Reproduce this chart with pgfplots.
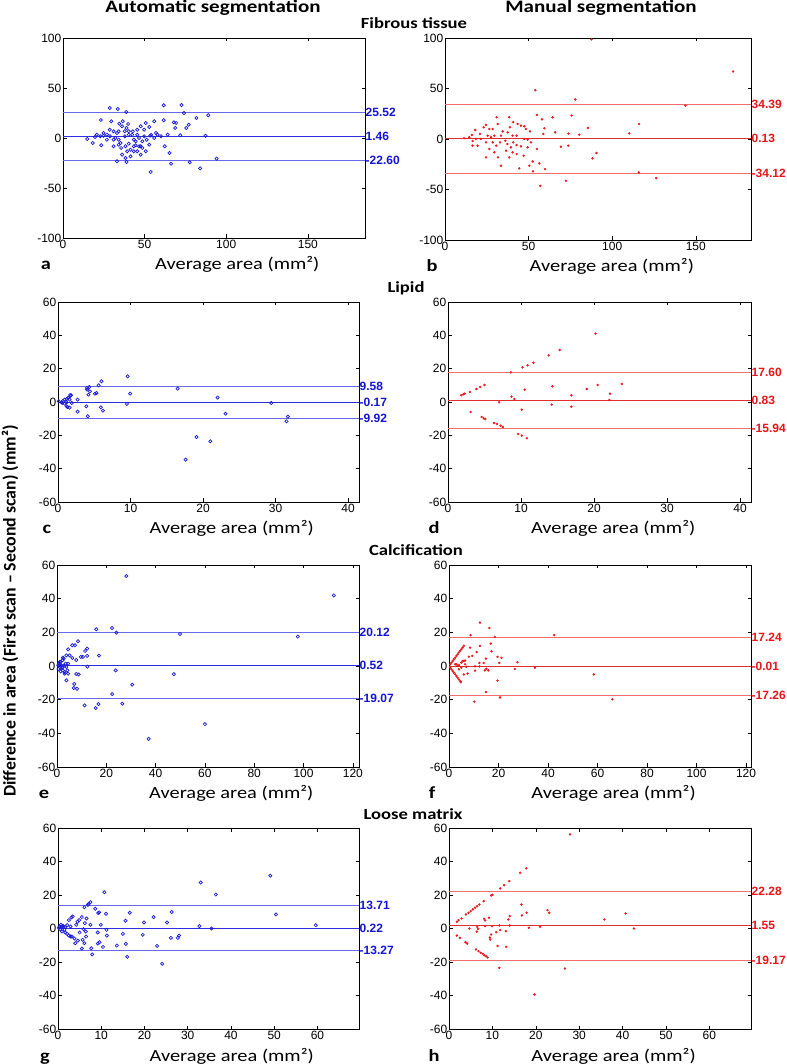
\documentclass[border=0pt]{standalone}
\usepackage{fontspec}
\setmainfont{Liberation Sans}
\newfontfamily\calfont{Carlito}
\usepackage{pgfplots}
\pgfplotsset{compat=1.18}
\definecolor{ptblue}{RGB}{25,25,215}
\definecolor{lnblue}{RGB}{105,105,235}
\definecolor{mnblue}{RGB}{45,45,225}
\definecolor{lblblue}{RGB}{20,20,215}
\definecolor{ptred}{RGB}{235,25,30}
\definecolor{lnred}{RGB}{242,110,110}
\definecolor{mnred}{RGB}{228,45,45}
\definecolor{lblred}{RGB}{235,20,25}
\newcommand{\wide}[1]{\scalebox{1.2}[1]{#1}}
\pgfplotsset{
 bland/.style={scale only axis, clip=false, anchor=south west, xmin=0,
   tick align=inside, tick pos=both, major tick length=3.5pt,
   axis line style={line width=0.6pt},
   every tick/.style={black, line width=0.5pt},
   ticklabel style={font=\fontsize{12}{14}\selectfont, inner sep=1.5pt},
   xlabel={\calfont\fontsize{17}{19}\selectfont\wide{Average area (mm²)}}},
 leftcol/.style={every axis x label/.style={at={(axis description cs:0.577,0)}, anchor=base, yshift=-32pt}},
 rightcol/.style={every axis x label/.style={at={(axis description cs:0.545,0)}, anchor=base, yshift=-32pt}},
 y100/.style={ymin=-100, ymax=100, ytick={-100,-50,0,50,100}, yticklabels={-100,-50,0,50,100}},
 y60/.style={ymin=-60, ymax=60, ytick={-60,-40,-20,0,20,40,60}, yticklabels={-60,-40,-20,0,20,40,60}},
 blueset/.style={only marks, mark=o, mark size=1.6pt, mark options={line width=0.7pt}, color=ptblue},
 redset/.style={only marks, mark=*, mark size=1pt, color=ptred},
}
\newcommand{\balines}[7]{%
 \addplot[#5, line width=0.9pt] coordinates {(0,#2) (#1,#2)};
 \addplot[#6, line width=0.9pt] coordinates {(0,#3) (#1,#3)};
 \addplot[#5, line width=0.9pt] coordinates {(0,#4) (#1,#4)};
 \node[anchor=west, inner sep=0pt, xshift=0.5pt, text=#7, font=\bfseries\fontsize{12}{14}\selectfont] at (axis cs:#1,#2) {#2};
 \node[anchor=west, inner sep=0pt, xshift=0.5pt, text=#7, font=\bfseries\fontsize{12}{14}\selectfont] at (axis cs:#1,#3) {#3};
 \node[anchor=west, inner sep=0pt, xshift=0.5pt, text=#7, font=\bfseries\fontsize{12}{14}\selectfont] at (axis cs:#1,#4) {#4};
}
\newcommand{\plet}[2]{\node[anchor=base, inner sep=0pt, font=\calfont\bfseries\fontsize{17}{19}\selectfont] at ([xshift=#1pt, yshift=-32pt]axis description cs:0,0) {\wide{#2}};}
\begin{document}
\begin{tikzpicture}
\useasboundingbox (0pt,0pt) rectangle (786pt,1064pt);
% titles
\node[anchor=base, inner sep=0pt, font=\calfont\bfseries\fontsize{17.5}{20}\selectfont] at (213pt,1051pt) {\wide{Automatic segmentation}};
\node[anchor=base, inner sep=0pt, font=\calfont\bfseries\fontsize{17.5}{20}\selectfont] at (601pt,1051pt) {\wide{Manual segmentation}};
\node[anchor=base, inner sep=0pt, font=\calfont\bfseries\fontsize{15.5}{18}\selectfont] at (414pt,1035pt) {\wide{Fibrous tissue}};
\node[anchor=base, inner sep=0pt, font=\calfont\bfseries\fontsize{15.5}{18}\selectfont] at (406pt,771pt) {\wide{Lipid}};
\node[anchor=base, inner sep=0pt, font=\calfont\bfseries\fontsize{15.5}{18}\selectfont] at (416pt,508pt) {\wide{Calcification}};
\node[anchor=base, inner sep=0pt, font=\calfont\bfseries\fontsize{15.5}{18}\selectfont] at (413pt,244pt) {\wide{Loose matrix}};
\node[rotate=90, inner sep=0pt, font=\calfont\bfseries\fontsize{17.8}{20}\selectfont] at (10pt,453pt) {Difference in area (First scan – Second scan) (mm²)};

% ---------- a
\begin{axis}[bland, leftcol, y100, at={(63pt,826pt)}, width=302pt, height=200pt, xmax=185,
  xtick={0,50,100,150}, xticklabels={0,50,100,150}]
\balines{185}{25.52}{1.46}{-22.60}{lnblue}{mnblue}{lblblue}
\addplot[blueset] coordinates {(28.6,30)(33.5,29)(38.7,26)(23.2,18)(29.6,16.7)(36.6,16.7)(34.5,14.3)(39.9,14)(36.2,11.7)(38.9,10)(24.8,5)(20.7,3.3)(14.9,-1)(18.2,-5)(23.4,-7.3)(26.9,3.3)(31,6.7)(32.1,0)(34.1,-1.7)(35.2,-5)(35.6,-10)(37.9,1.7)(40.3,-5.7)(42.4,3.3)(43.4,-1.7)(44.5,-7.3)(45.5,-13.3)(47.6,-8.3)(48.6,-3.3)(49.7,8.3)(50.7,15)(52.8,11)(54,3)(55.9,16.7)(57,5)(60,1.7)(61.7,32.7)(61.7,17.7)(62.3,-8.3)(64.1,3.3)(65.2,-15)(66.2,-25.7)(67.9,15.7)(68.7,10)(69.3,15)(71.8,2.7)(72.6,33)(74.1,25)(75.5,10)(77,13.3)(77.6,-24.3)(81.7,20)(84,-30.3)(87.3,2.3)(89,22.7)(94.1,-20.7)(53.7,-34)(33.1,-23.3)(38.9,-24)(36.2,-16.7)(38.3,-20)(41.4,-18.3)(43.4,-13.3)(47.6,-16.7)(50.7,-13.3)(57.9,3.3)(28.8,1.7)(31,-1.7)(33.1,5)(34.1,6.7)(37.8,6.7)(40.3,3.3)(45.5,3.3)(46.6,0)(49.7,1.7)(51.3,-1.7)(52.8,-6.7)(43.4,-8.3)(38.3,-8.3)(34.1,-6.7)(31,-8.3)(26.9,-1.7)(22.8,1.7)(19.6,1)(24.8,2.3)(28.6,8.3)(40.3,6.7)(42.8,6.7)(45.5,8.3)(47.6,11.7)(44.5,-3.3)(46.6,-8.3)(48.6,-10)(41.4,-11.7)(39.3,-13.3)(55.9,0)(53.4,2.3)};
\plet{-17}{a}
\end{axis}

% ---------- b
\begin{axis}[bland, rightcol, y100, at={(445pt,824pt)}, width=306pt, height=202pt, xmax=183,
  xtick={0,50,100,150}, xticklabels={0,50,100,150}]
\balines{183}{34.39}{0.13}{-34.12}{lnred}{mnred}{lblred}
\addplot[redset] coordinates {(87.6,98.7)(172.3,66.9)(54,48.3)(77.9,39.1)(143.8,33.1)(75.7,23.2)(55,23.8)(64.3,21.5)(116.1,14.9)(110.2,5.6)(85.5,10.9)(80.3,4.3)(73.9,5.3)(65.9,6.6)(58,19.5)(59.4,10.6)(58.8,5)(69.3,-7.6)(73.7,-6.6)(90.6,-13.9)(88.2,-19.2)(115.9,-33.1)(126.3,-38.7)(72.3,-41.4)(57,-46.4)(59.8,-29.8)(56.4,-24.2)(52.4,-22.2)(50.4,-26.5)(52.6,-32.1)(44.4,-29.1)(33.5,-26.5)(24.5,-18.2)(31.7,-18.2)(38.4,-18.2)(42.8,-14.9)(47,-16.6)(49.4,-8.3)(54.9,-9.9)(11.4,0.7)(16.1,4)(16.5,-6.6)(18.1,8.9)(20.9,5)(23.1,11.6)(24.5,13.9)(26.5,9.9)(28.5,9.9)(30.9,21.5)(31.5,14.9)(34.5,7.6)(38.4,21.5)(38.8,11.6)(40.8,16.6)(43.4,14.9)(45.4,13.2)(47.4,12.6)(48.4,9.9)(50.8,7.6)(27.5,1.7)(28.5,-3.3)(30.6,-6.6)(32.9,-3.3)(36.1,-1.7)(37.3,-5)(39.4,-8.3)(40.8,-3.3)(42.8,-6)(45.4,-7.3)(47.4,0)(21.5,0)(24.5,-3.3)(19.5,-6.6)(18.5,0)(40.4,3.3)(37.5,6.6)(33.5,3.3)(29.5,3.3)(25.5,3.3)(42.8,3.3)(26.5,-9.9)(29.5,-13.2)(36.5,-11.6)(40.4,-13.2)(51.4,-3.3)(49.4,-0.7)(16.5,-2)(14.5,1.7)};
\plet{-13}{b}
\end{axis}

% ---------- c
\begin{axis}[bland, leftcol, y60, at={(58pt,562pt)}, width=301pt, height=200pt, xmax=41.5,
  xtick={0,10,20,30,40}, xticklabels={0,10,20,30,40}]
\balines{41.5}{9.58}{-0.17}{-9.92}{lnblue}{mnblue}{lblblue}
\addplot[blueset] coordinates {(0.1,0.4)(0.5,-0.2)(0.7,0.6)(0.9,1.4)(1.2,1.8)(1.4,2.4)(1.6,1.4)(1.2,-0.2)(0.6,-0.6)(0.9,-1)(1.9,-0.6)(1.5,2.8)(1.8,4)(1.2,-2.6)(1.3,-3)(1.6,-3.4)(2.7,1.4)(1.7,4.2)(2.7,-5.8)(3.9,-2.6)(4,8.4)(4.2,4.4)(4.0,7.4)(4.4,6.4)(4.1,-8.6)(5.1,5)(5.3,5.4)(5.6,10)(6,12.4)(5.9,-3.2)(6.2,-5.2)(9.5,-1.2)(9.6,15.4)(9.95,5)(16.5,8)(17.6,-34.6)(19.1,-21)(21,-23.6)(22,2.6)(23.1,-7)(29.4,-0.6)(31.5,-11.6)(31.7,-8.8)(4.3,9)};
\plet{-11}{c}
\end{axis}

% ---------- d
\begin{axis}[bland, rightcol, y60, at={(448pt,562pt)}, width=303pt, height=200pt, xmax=41.5,
  xtick={0,10,20,30,40}, xticklabels={0,10,20,30,40}]
\balines{41.5}{17.60}{0.83}{-15.94}{lnred}{mnred}{lblred}
\addplot[redset] coordinates {(1.8,4)(2.1,4.6)(2.3,5)(3,6)(3.9,7.8)(4.4,9)(5,10.2)(3.1,-6)(4.6,-9)(4.9,-9.8)(5.1,-10.2)(6.3,-12.6)(6.7,-13.2)(7.2,-14.2)(7.5,-15)(7,-0.2)(8.6,17.8)(8.7,3.2)(9.1,1.8)(9.6,-19.2)(10.1,-20.2)(10.8,-21.8)(10.1,-4.6)(10.2,20.8)(10.5,7.4)(10.9,22)(11.7,23.6)(13.8,28)(14.2,-1.6)(14.3,9.4)(15.3,31.2)(16.9,4)(16.9,-2.8)(19,7.8)(20.2,41)(20.5,10.2)(22.1,1.2)(22.2,5)(23.8,10.8)};
\plet{-14}{d}
\end{axis}

% ---------- e
\begin{axis}[bland, leftcol, y60, at={(57pt,297pt)}, width=302pt, height=202pt, xmax=122.5,
  xtick={0,20,40,60,80,100,120}, xticklabels={0,20,40,60,80,100,120}]
\balines{122.5}{20.12}{0.52}{-19.07}{lnblue}{mnblue}{lblblue}
\addplot[blueset] coordinates {(28.1,53.4)(112.3,41.9)(15.9,21.8)(22.3,22.6)(24.1,19.8)(49.9,19)(97.7,17.5)(8.5,14.7)(6.2,12.3)(7.3,12.3)(12.2,10.3)(11.4,8.9)(4.5,9.9)(17,6.2)(9.7,5.4)(10.5,5.4)(12.2,6)(5.1,6.3)(6.2,4.8)(7.8,3.6)(12.3,-0.4)(23.8,-2.6)(47.4,-4.8)(7.8,-4.8)(8.8,-5)(3.8,-8.5)(7,-10.7)(6.8,-13.1)(8.1,-13.5)(30.5,-11.1)(22.4,-16.7)(11.2,-23.4)(16.8,-22.6)(15.7,-25)(26.5,-22.4)(37.2,-43.3)(60,-34.5)(0.8,1.4)(1.1,-0.6)(1.4,2.4)(1.8,-1.6)(2.2,3.4)(2.4,-2.6)(2.7,4.4)(3.1,-3.6)(3.5,1.4)(3.8,-0.6)(1.8,0.4)(2.4,5)(3.1,-4.6)(4.5,1.4)(4.2,-2.6)(0.5,0.4)(1.1,2.4)(2.2,-1)(4.5,-4.6)(3.8,6.3)(0.6,-1.8)(1.5,-3.2)(2.9,0.2)(1.3,1)};
\plet{-13}{e}
\end{axis}

% ---------- f
\begin{axis}[bland, rightcol, y60, at={(449pt,297pt)}, width=302pt, height=202pt, xmax=122,
  xtick={0,20,40,60,80,100,120}, xticklabels={0,20,40,60,80,100,120}]
\balines{122}{17.24}{-0.01}{-17.26}{lnred}{mnred}{lblred}
\addplot[redset] coordinates {(12.5,25.8)(16.3,22.6)(8.7,18.3)(18.5,17.3)(42.5,18.3)(16.9,13.3)(12.5,11.9)(8.5,10.9)(11.2,8.3)(17.2,8.7)(9.4,6)(19.6,5.4)(21.2,4.8)(14.9,4.4)(12.3,1.8)(14,1.8)(20.3,1.8)(27.6,2.2)(26.6,-1.8)(34.7,-1)(10.5,-0.2)(12.3,-0.2)(15.1,-1.6)(14.5,-2.6)(15.9,-2.6)(10.5,-2.8)(58.5,-5)(19.6,-8.7)(14.9,-15.5)(20.6,-18.7)(66,-19.8)(10.2,-21.2)(0.5,1)(1,2)(1.5,3)(2,4)(2.5,5)(3,6)(3.5,7)(4,8)(4.5,9)(5,10)(5.5,11)(6,12)(0.5,-1)(1,-2)(1.5,-3)(2,-4)(2.5,-5)(3,-6)(3.5,-7)(4,-8)(4.5,-9)(4.8,-9.6)(3,1)(4,0.5)(5,2)(6,3)(6.5,1)(7,-0.5)(5,-1)(4,-2)(6,-5)(7.5,-4.5)(8,5.5)(3.5,0)(2.5,1)(6.5,3.2)(5.5,3)};
\plet{-17}{f}
\end{axis}

% ---------- g
\begin{axis}[bland, leftcol, y60, at={(58pt,35pt)}, width=301pt, height=201pt, xmax=69.6,
  xtick={0,10,20,30,40,50,60}, xticklabels={0,10,20,30,40,50,60}]
\balines{69.6}{13.71}{0.22}{-13.27}{lnblue}{mnblue}{lblblue}
\addplot[blueset] coordinates {(49.1,31.5)(33,27.5)(36.5,20.3)(10.7,21.7)(7.5,15.7)(7.1,14.7)(6.9,14.1)(6.1,12.7)(8.6,11.8)(9.3,9.2)(9.5,9.6)(11.1,8.8)(16.6,9.4)(26.3,9.8)(50.4,8.4)(3.4,7.2)(3.1,6.6)(5.5,6.8)(6.6,6)(4.9,5)(4.5,4)(2.5,5)(15.6,4.6)(22.1,6.8)(19.9,3.6)(25.2,3.6)(7.5,2.2)(6.2,3.2)(9.9,2.2)(32.7,1.4)(35.5,0)(59.6,2)(4.2,2.2)(2.9,1.2)(5.9,-0.4)(11.2,-0.8)(6.4,-1.8)(9.2,-2.4)(5,-2.4)(15,-3.2)(19.6,-3.8)(28,-4.2)(27.7,-5.6)(26.1,-5.6)(11.3,-4.2)(6.5,-4.8)(3.2,-4.8)(3.8,-6)(4.6,-7.2)(4,-8.8)(5.7,-6.8)(6.1,-8.8)(9.2,-9)(9.6,-8.2)(10.4,-11)(13.6,-10.2)(15.7,-9.2)(22.9,-10.4)(5.5,-12)(7.7,-11.8)(7.9,-15.5)(16,-16.9)(24.1,-21.1)(0.4,1.2)(0.5,-0.4)(0.7,2.2)(0.9,-1.8)(1.3,0.8)(1.5,-0.8)(0.9,1.2)(1.7,-2.4)(2.1,-3.2)(2.5,-4.2)(2.9,-4.8)(1.2,1.6)(2.1,2)(0.2,0.4)(1.7,0.8)};
\plet{-13}{g}
\end{axis}

% ---------- h
\begin{axis}[bland, rightcol, y60, at={(449pt,35pt)}, width=302pt, height=201pt, xmax=69.6,
  xtick={0,10,20,30,40,50,60}, xticklabels={0,10,20,30,40,50,60}]
\balines{69.6}{22.28}{1.55}{-19.17}{lnred}{mnred}{lblred}
\addplot[redset] coordinates {(27.9,56.2)(17.8,35.9)(16.4,33.3)(13.9,28.3)(12.7,25.9)(11.8,23.9)(10,20.1)(9.7,19.7)(8,16.3)(7,14.3)(6.5,13.3)(6,12.4)(5.5,11.4)(5,10.4)(4.5,9.4)(3.9,8.4)(2.9,6)(2.2,5)(1.8,4)(16.7,14.3)(16.8,7.8)(17.9,9.4)(22.7,11)(23.1,9.4)(35.8,5.4)(40.7,9)(42.6,0)(14,7.4)(13.7,5.4)(8.1,5.8)(8.3,4.8)(9.2,6.4)(8.3,1.4)(9.9,1.4)(11.6,1.8)(14,1.8)(18.4,0.4)(21,1)(4.7,0)(6.5,1)(6.7,-0.2)(6.4,-1.8)(11.8,-1)(10.9,-2.2)(13.1,-1.6)(9.7,-3.6)(9.4,-5.4)(9.5,-6.6)(11.2,-10.4)(13.2,-11)(1.8,-4.2)(2.5,-5.6)(3.8,-8.2)(4.2,-9)(6.2,-12.5)(6.8,-13.5)(7.3,-14.5)(7.8,-15.1)(8.1,-15.9)(8.5,-16.5)(8.9,-17.3)(11.6,-23.5)(26.7,-23.9)(19.7,-39.4)};
\plet{-15}{h}
\end{axis}
\end{tikzpicture}
\end{document}
